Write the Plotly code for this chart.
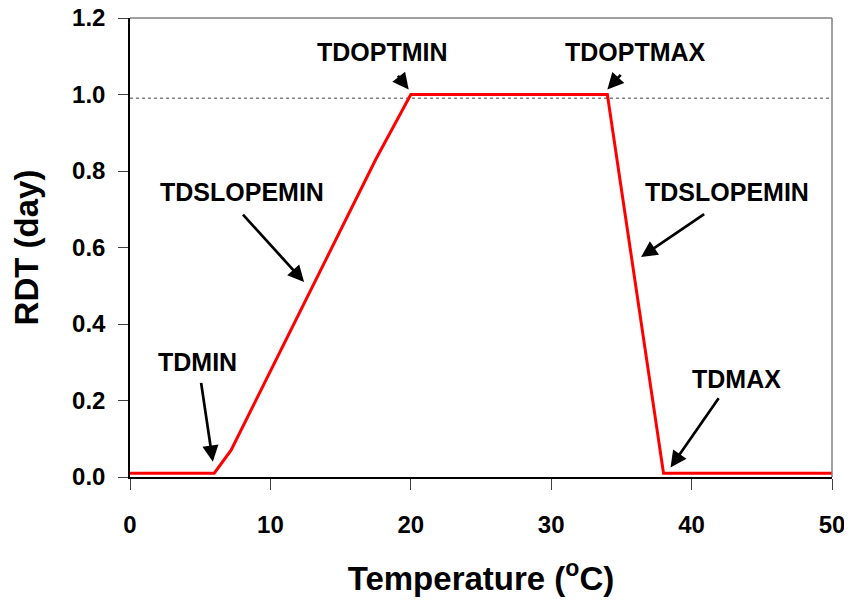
import plotly.graph_objects as go

# Data
temp = [0, 6, 7.2, 17.5, 20, 34, 38, 50]
rdt = [0.01, 0.01, 0.07, 0.83, 1.0, 1.0, 0.01, 0.01]
ref_x = [0, 50]
ref_y = [0.99, 0.99]

x_ticks = [0, 10, 20, 30, 40, 50]
y_ticks = [0.0, 0.2, 0.4, 0.6, 0.8, 1.0, 1.2]
y_tick_text = ["0.0", "0.2", "0.4", "0.6", "0.8", "1.0", "1.2"]

# annotations: label, text x, text y, arrow head x, head y, tail x, tail y
labels = ["TDOPTMIN", "TDOPTMAX", "TDSLOPEMIN", "TDSLOPEMIN", "TDMIN", "TDMAX"]
label_x = [18.0, 36.0, 8.0, 42.5, 4.8, 43.2]
label_y = [1.11, 1.11, 0.745, 0.745, 0.30, 0.255]
head_x = [19.85, 34.0, 12.4, 36.4, 5.9, 38.5]
head_y = [1.013, 1.013, 0.51, 0.575, 0.04, 0.025]
tail_x = [19.0, 35.05, 7.95, 41.0, 5.05, 42.0]
tail_y = [1.053, 1.055, 0.69, 0.69, 0.25, 0.21]

FONT = "Liberation Sans, Arial, sans-serif"

fig = go.Figure()
fig.add_trace(go.Scatter(x=ref_x, y=ref_y, mode="lines",
                         line=dict(color="#808080", width=1.5, dash="dot"),
                         hoverinfo="skip", showlegend=False))
fig.add_trace(go.Scatter(x=temp, y=rdt, mode="lines",
                         line=dict(color="#ff0000", width=3),
                         showlegend=False))

for t, lx, ly, hx, hy, tx, ty in zip(labels, label_x, label_y, head_x, head_y, tail_x, tail_y):
    fig.add_annotation(x=lx, y=ly, text="<b>%s</b>" % t, showarrow=False,
                       font=dict(family=FONT, size=25, color="black"),
                       xanchor="center", yanchor="middle")
    fig.add_annotation(x=hx, y=hy, ax=tx, ay=ty, xref="x", yref="y",
                       axref="x", ayref="y", text="", showarrow=True,
                       arrowhead=2, arrowsize=1.2, arrowwidth=2.7,
                       arrowcolor="black")

# top and right frame lines (gray)
fig.add_shape(type="line", xref="paper", yref="paper", x0=0, x1=1, y0=1, y1=1,
              line=dict(color="#808080", width=1.5))
fig.add_shape(type="line", xref="paper", yref="paper", x0=1, x1=1, y0=0, y1=1,
              line=dict(color="#808080", width=1.5))

fig.update_xaxes(range=[0, 50], tickvals=x_ticks, ticktext=["<b>%d</b>" % v for v in x_ticks],
                 ticks="outside", ticklen=11,
                 tickcolor="#404040", showline=True, linecolor="black", linewidth=1.5,
                 showgrid=False, zeroline=False, ticklabelstandoff=14, automargin=False,
                 ticklabeloverflow="allow",
                 tickfont=dict(family=FONT, size=24, color="black"),
                 title=dict(text="<b>Temperature (<sup>o</sup>C)</b>",
                            font=dict(family=FONT, size=33, color="black"),
                            standoff=30))
fig.update_yaxes(range=[0, 1.2], tickvals=y_ticks, ticktext=["<b>%s</b>" % s for s in y_tick_text],
                 ticks="outside", ticklen=10, tickcolor="#404040",
                 showline=True, linecolor="black", linewidth=1.5,
                 showgrid=False, zeroline=False, ticklabelstandoff=8, automargin=False,
                 ticklabeloverflow="allow",
                 tickfont=dict(family=FONT, size=24, color="black"),
                 title=dict(text="<b>RDT (day)</b>",
                            font=dict(family=FONT, size=33, color="black"),
                            standoff=26))

# page body has an 8px default margin, so the figure is sized to fit inside the window
fig.update_layout(width=844, height=599, plot_bgcolor="white", paper_bgcolor="white",
                  margin=dict(l=122, r=20, t=10, b=130, autoexpand=False), showlegend=False)

fig.write_html("out.html")
